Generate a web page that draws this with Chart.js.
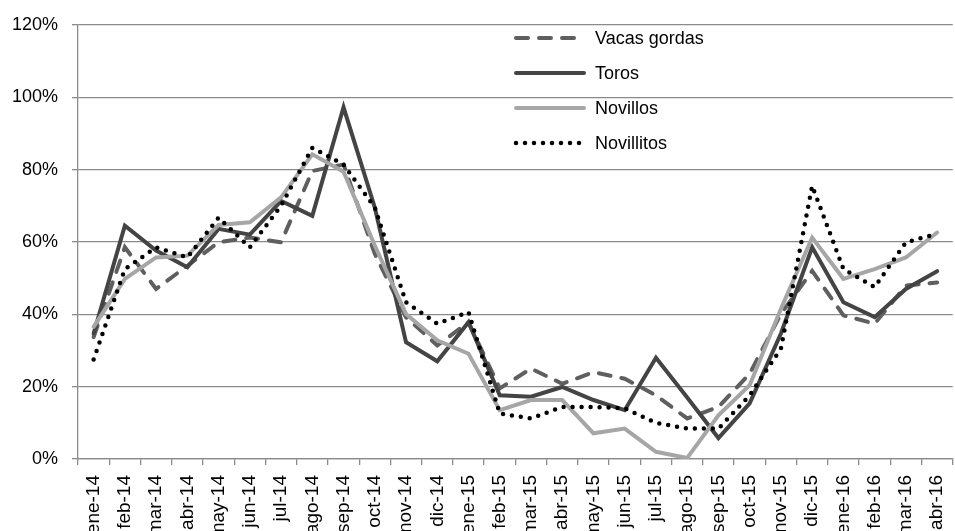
<!DOCTYPE html>
<html>
<head>
<meta charset="utf-8">
<script src="https://cdn.jsdelivr.net/npm/chart.js@4/dist/chart.umd.min.js"></script>
<style>
  html, body { margin: 0; padding: 0; background: #fff; overflow: hidden; }
  #wrap { position: relative; width: 970px; height: 531px; }
</style>
</head>
<body>
<div id="wrap"><canvas id="chart"></canvas></div>
<script>
const months = ['ene-14', 'feb-14', 'mar-14', 'abr-14', 'may-14', 'jun-14', 'jul-14', 'ago-14', 'sep-14', 'oct-14',
  'nov-14', 'dic-14', 'ene-15', 'feb-15', 'mar-15', 'abr-15', 'may-15', 'jun-15', 'jul-15', 'ago-15',
  'sep-15', 'oct-15', 'nov-15', 'dic-15', 'ene-16', 'feb-16', 'mar-16', 'abr-16'];

// percent values
const vacasGordas = [33.7, 58.5, 47, 53.4, 59.9, 61.2, 59.9, 79.6, 81.4, 56.7, 39.2, 31.4, 37.8, 19.5,
  25, 20.8, 24, 22.2, 17.6, 11.2, 14.4, 23.6, 40.1, 52, 39.7, 37.4, 47.9, 48.8];
const toros = [34.7, 64.5, 57.6, 53, 63.6, 62, 71.3, 67.2, 97.2, 69.5, 32.3, 27, 37.8, 17.6,
  17.2, 19.9, 16.3, 13.5, 28, 17, 5.8, 15.4, 34.7, 58.5, 43.3, 39.2, 47, 51.9];
const novillos = [36.5, 49.8, 55.7, 56.2, 64.7, 65.4, 72.3, 84.2, 79.4, 59, 40.1, 32.8, 29.1, 13.5,
  16.3, 16.3, 7.1, 8.4, 2, 0.3, 12.1, 20.4, 41.5, 61.2, 49.8, 52.5, 55.7, 62.6];
const novillitos = [27.5, 52.5, 58.5, 55.7, 66.7, 58.5, 70, 86, 81.4, 69.5, 43.3, 37.4, 40.6, 12.6,
  11.2, 14.4, 14.4, 14, 10, 8.4, 8.4, 17.6, 30.5, 75.5, 52.5, 47.5, 59.9, 62.2];

const seriesNames = ['Vacas gordas', 'Toros', 'Novillos', 'Novillitos'];
const yTicks = [0, 20, 40, 60, 80, 100, 120];

const FONT = '"Liberation Sans", Arial, sans-serif';
const gridColor = '#8a8a8a';

// legend drawn inside the plot, top right, like the original
const insideLegend = {
  id: 'insideLegend',
  afterDatasetsDraw(chart) {
    const ctx = chart.ctx;
    const x0 = 516, x1 = 584, textX = 595;
    const rows = [38, 73, 108, 143];
    ctx.save();
    chart.data.datasets.forEach((ds, i) => {
      const y = rows[i];
      ctx.beginPath();
      ctx.strokeStyle = ds.borderColor;
      ctx.lineWidth = ds.borderWidth;
      ctx.lineCap = ds.borderCapStyle || 'butt';
      ctx.setLineDash(ds.borderDash || []);
      ctx.moveTo(x0, y);
      ctx.lineTo(x1, y);
      ctx.stroke();
      ctx.setLineDash([]);
      ctx.fillStyle = '#000';
      ctx.font = '18px ' + FONT;
      ctx.textBaseline = 'middle';
      ctx.textAlign = 'left';
      ctx.fillText(ds.label, textX, y + 1);
    });
    ctx.restore();
  }
};

new Chart(document.getElementById('chart'), {
  type: 'line',
  data: {
    labels: months,
    datasets: [
      {
        label: seriesNames[0],
        data: vacasGordas,
        borderColor: '#5f5f5f',
        borderWidth: 4,
        borderDash: [12, 11],
        borderCapStyle: 'round',
        order: 4
      },
      {
        label: seriesNames[1],
        data: toros,
        borderColor: '#444444',
        borderWidth: 4,
        borderCapStyle: 'round',
        order: 3
      },
      {
        label: seriesNames[2],
        data: novillos,
        borderColor: '#a6a6a6',
        borderWidth: 4,
        borderCapStyle: 'round',
        order: 2
      },
      {
        label: seriesNames[3],
        data: novillitos,
        borderColor: '#000000',
        borderWidth: 4.5,
        borderDash: [0, 9],
        borderCapStyle: 'round',
        order: 1
      }
    ]
  },
  options: {
    responsive: true,
    maintainAspectRatio: false,
    animation: false,
    tension: 0,
    pointRadius: 0,
    pointHoverRadius: 0,
    layout: { padding: { top: 14, right: 4, left: 0, bottom: 0 } },
    plugins: {
      legend: { display: false },
      tooltip: { enabled: false }
    },
    scales: {
      x: {
        offset: true,
        grid: {
          offset: true,
          drawOnChartArea: false,
          drawTicks: true,
          tickLength: 6,
          color: gridColor,
          lineWidth: 1.3
        },
        border: { color: gridColor, width: 1.3 },
        ticks: {
          autoSkip: false,
          maxRotation: 90,
          minRotation: 90,
          padding: 10,
          color: '#000',
          font: { family: FONT, size: 19 }
        },
        afterFit(scale) { scale.height = 72; }
      },
      y: {
        min: 0,
        max: 120,
        afterBuildTicks(scale) { scale.ticks = yTicks.map(v => ({ value: v })); },
        grid: {
          color: gridColor,
          lineWidth: 1.3,
          tickLength: 6
        },
        border: { color: gridColor, width: 1.3 },
        ticks: {
          padding: 14,
          color: '#000',
          font: { family: FONT, size: 18 },
          callback: v => v + '%'
        },
        afterFit(scale) { scale.width = 78; }
      }
    }
  },
  plugins: [insideLegend]
});
</script>
</body>
</html>
